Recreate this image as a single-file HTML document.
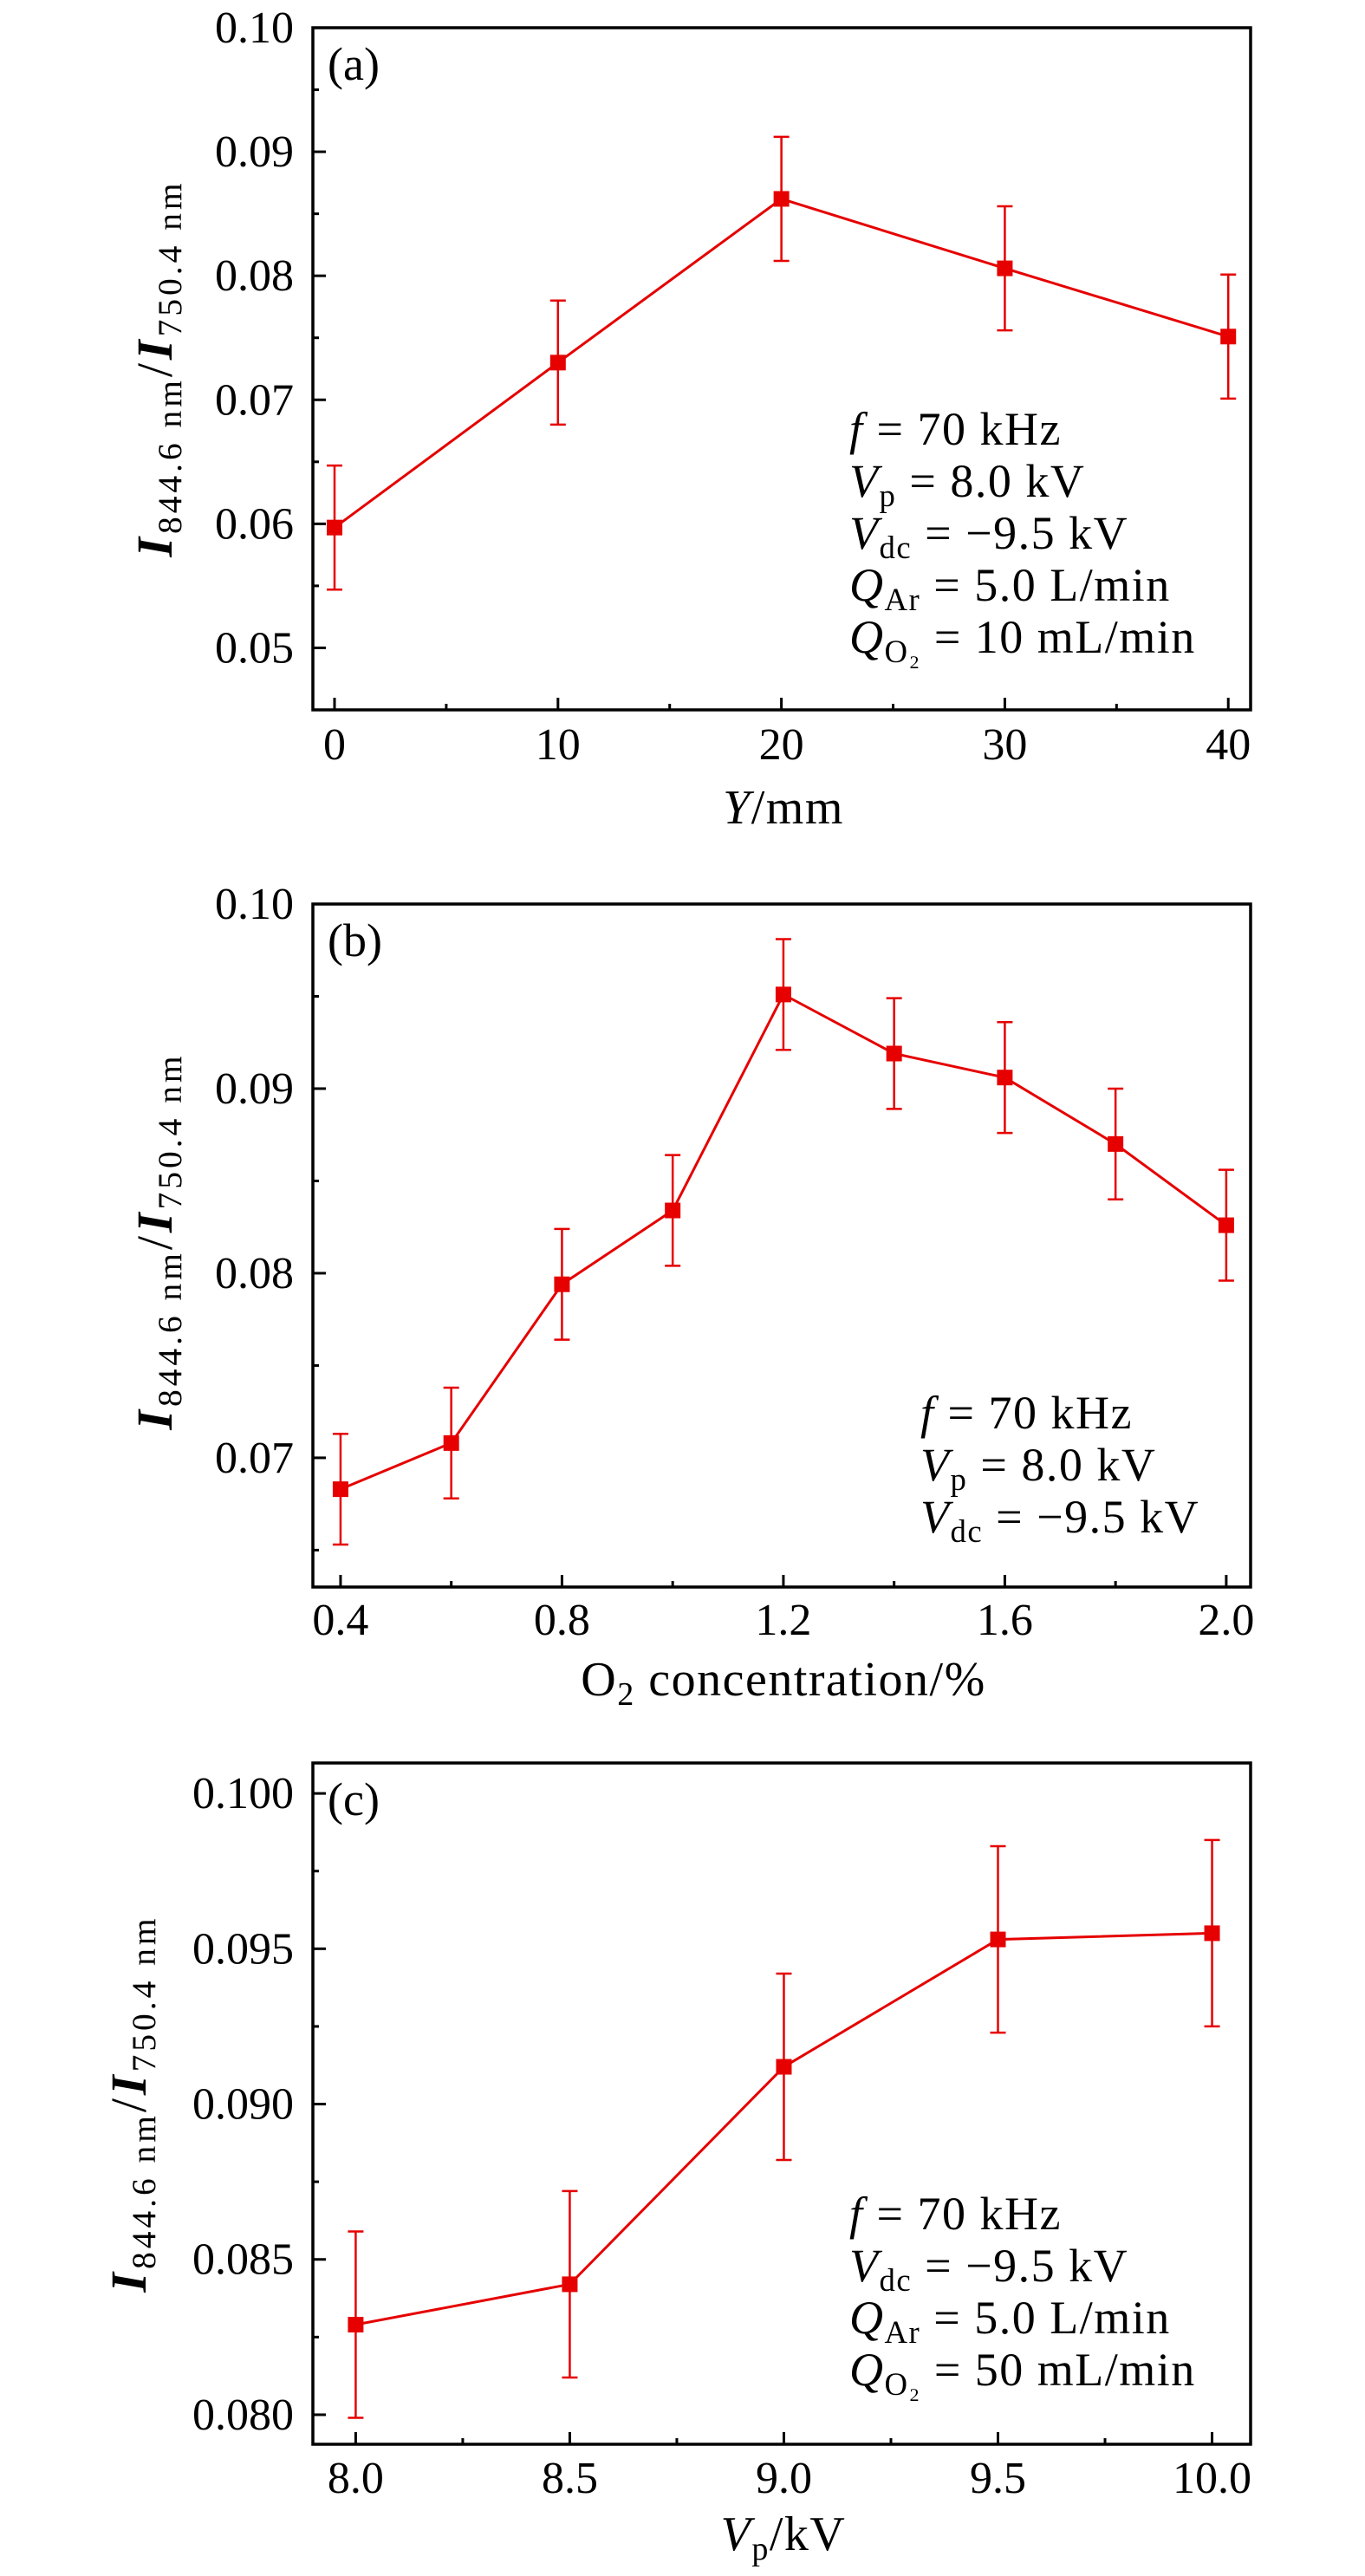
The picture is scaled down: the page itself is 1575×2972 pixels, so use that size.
<!DOCTYPE html>
<html><head><meta charset="utf-8"><style>
html,body{margin:0;padding:0;background:#fff;}
svg{display:block;font-family:"Liberation Serif",serif;}
</style></head><body>
<svg id="fig" width="1575" height="2972" viewBox="0 0 1575 2972" xmlns="http://www.w3.org/2000/svg"></svg>
<script>
// Panel (a)
const aX = [0, 10, 20, 30, 40];
const aY = [0.0597, 0.0730, 0.0862, 0.0806, 0.0751];
const aErr = [0.005, 0.005, 0.005, 0.005, 0.005];
const aXTicks = ["0", "10", "20", "30", "40"];
const aYTicks = ["0.05", "0.06", "0.07", "0.08", "0.09", "0.10"];
// Panel (b)
const bX = [0.4, 0.6, 0.8, 1.0, 1.2, 1.4, 1.6, 1.8, 2.0];
const bY = [0.0683, 0.0708, 0.0794, 0.0834, 0.0951, 0.0919, 0.0906, 0.0870, 0.0826];
const bErr = [0.003, 0.003, 0.003, 0.003, 0.003, 0.003, 0.003, 0.003, 0.003];
const bXTicks = ["0.4", "0.8", "1.2", "1.6", "2.0"];
const bYTicks = ["0.07", "0.08", "0.09", "0.10"];
// Panel (c)
const cX = [8.0, 8.5, 9.0, 9.5, 10.0];
const cY = [0.0829, 0.0842, 0.0912, 0.0953, 0.0955];
const cErr = [0.003, 0.003, 0.003, 0.003, 0.003];
const cXTicks = ["8.0", "8.5", "9.0", "9.5", "10.0"];
const cYTicks = ["0.080", "0.085", "0.090", "0.095", "0.100"];

const NS = "http://www.w3.org/2000/svg";
const svg = document.getElementById("fig");
function el(tag, attrs, parent) {
  const e = document.createElementNS(NS, tag);
  for (const k in attrs) e.setAttribute(k, attrs[k]);
  (parent || svg).appendChild(e);
  return e;
}
function rich(parent, x, y, parts, size, anchor, ls) {
  const t = el("text", {x: x, y: y, "font-size": size, "text-anchor": anchor || "start", fill: "#000"}, parent);
  if (ls) t.setAttribute("letter-spacing", ls);
  let shift = 0;
  parts.forEach(p => {
    const s = document.createElementNS(NS, "tspan");
    s.textContent = p[0];
    const st = p[1] || "";
    let dy = 0;
    if (st.includes("sub")) { s.setAttribute("font-size", size * 0.68); dy = 11 - shift; shift = 11; }
    else { dy = -shift; shift = 0; }
    if (dy) s.setAttribute("dy", dy);
    if (st.includes("i")) s.setAttribute("font-style", "italic");
    if (st.includes("B")) s.setAttribute("font-weight", "bold");
    t.appendChild(s);
  });
  return t;
}

function panel(cfg) {
  const g = el("g", {});
  
  
  const L = 361, R = 1443, T = cfg.top, B = cfg.bottom;
  const sx = v => L + (v - cfg.xmin) / (cfg.xmax - cfg.xmin) * (R - L);
  const sy = v => B - (v - cfg.ymin) / (cfg.ymax - cfg.ymin) * (B - T);
  const tg = el("g", {stroke: "#000", "stroke-width": 3}, g);
  
  
  cfg.xTicks.forEach((lab, i) => {
    const v = parseFloat(lab);
    el("line", {x1: sx(v), x2: sx(v), y1: B, y2: B - 14}, tg);
    const t = el("text", {x: sx(v), y: cfg.xLabelY, "font-size": 52, "text-anchor": "middle", stroke: "none", fill: "#000"}, g);
    t.textContent = lab;
    
    
    if (i < cfg.xTicks.length - 1) {
      const m = v + cfg.xStep / 2;
      el("line", {x1: sx(m), x2: sx(m), y1: B, y2: B - 7}, tg);
    }
  });
  cfg.yTicks.forEach((lab, i) => {
    const v = parseFloat(lab);
    el("line", {x1: L, x2: L + 15, y1: sy(v), y2: sy(v)}, tg);
    const t = el("text", {x: 339, y: sy(v) + 17, "font-size": 52, "text-anchor": "end", fill: "#000"}, g);
    t.textContent = lab;
    
    
    const m = v + cfg.yStep / 2;
    if (m < cfg.ymax) el("line", {x1: L, x2: L + 7, y1: sy(m), y2: sy(m)}, tg);
    const m2 = v - cfg.yStep / 2;
    if (i === 0 && m2 > cfg.ymin) el("line", {x1: L, x2: L + 7, y1: sy(m2), y2: sy(m2)}, tg);
  });
  const box = el("rect", {x: L, y: T, width: R - L, height: B - T, fill: "none", stroke: "#000", "stroke-width": 3.5}, g);
  
  
  const pts = cfg.xs.map((x, i) => sx(x) + "," + sy(cfg.ys[i])).join(" ");
  const line = el("polyline", {points: pts, fill: "none", stroke: "#e60000", "stroke-width": 3}, g);
  
  
  cfg.xs.forEach((x, i) => {
    const X = sx(x), Y = sy(cfg.ys[i]);
    const y1 = sy(cfg.ys[i] + cfg.err[i]), y2 = sy(cfg.ys[i] - cfg.err[i]);
    const eb = el("path", {d: `M${X},${y1}V${y2}M${X-9},${y1}H${X+9}M${X-9},${y2}H${X+9}`, stroke: "#e60000", "stroke-width": 2.5, fill: "none"}, g);
    
    
    const mk = el("rect", {x: X - 9, y: Y - 9, width: 18, height: 18, fill: "#e60000"}, g);
    
    
  });
  const pl = el("text", {x: 378, y: T + 60, "font-size": 54, fill: "#000"}, g);
  pl.textContent = cfg.label;
  
  
  const ag = el("g", {}, g);
  
  
  cfg.notes.forEach((parts, i) => rich(ag, cfg.noteX, cfg.noteY + i * 60, parts, 54, "start", 1.5));
  const yg = el("g", {transform: `translate(${cfg.yTitleX},${cfg.yTitleY}) rotate(-90)`}, g);
  const yt = rich(yg, 0, 0, [["I","iB"],["844.6 nm","sub"],["/",""],["I","iB"],["750.4 nm","sub"]], 58, "middle", 4);
  
  
  const xt = rich(g, 904, cfg.xTitleY, cfg.xTitle, 56, "middle", 1.5);
  
  
}

panel({name: "panel-a", top: 32, bottom: 819, xmin: -0.97, xmax: 41.0, ymin: 0.045, ymax: 0.10,
  xs: aX, ys: aY, err: aErr, xTicks: aXTicks, yTicks: aYTicks, xStep: 10, yStep: 0.01,
  xLabelY: 876, xTitleY: 950, label: "(a)", noteX: 980, noteY: 513, yTitleX: 198, yTitleY: 425,
  xTitle: [["Y","i"],["/mm",""]],
  notes: [[["f","i"],[" = 70 kHz",""]],[["V","i"],["p","sub"],[" = 8.0 kV",""]],[["V","i"],["dc","sub"],[" = −9.5 kV",""]],[["Q","i"],["Ar","sub"],[" = 5.0 L/min",""]],[["Q","i"],["O₂","sub"],[" = 10 mL/min",""]]]});
panel({name: "panel-b", top: 1043, bottom: 1831, xmin: 0.35, xmax: 2.044, ymin: 0.063, ymax: 0.10,
  xs: bX, ys: bY, err: bErr, xTicks: bXTicks, yTicks: bYTicks, xStep: 0.4, yStep: 0.01,
  xLabelY: 1886, xTitleY: 1956, label: "(b)", noteX: 1062, noteY: 1648, yTitleX: 198, yTitleY: 1432,
  xTitle: [["O",""],["2","sub"],[" concentration/%",""]],
  notes: [[["f","i"],[" = 70 kHz",""]],[["V","i"],["p","sub"],[" = 8.0 kV",""]],[["V","i"],["dc","sub"],[" = −9.5 kV",""]]]});
panel({name: "panel-c", top: 2034, bottom: 2820, xmin: 7.9, xmax: 10.09, ymin: 0.07905, ymax: 0.10098,
  xs: cX, ys: cY, err: cErr, xTicks: cXTicks, yTicks: cYTicks, xStep: 0.5, yStep: 0.005,
  xLabelY: 2876, xTitleY: 2942, label: "(c)", noteX: 980, noteY: 2572, yTitleX: 168, yTitleY: 2427,
  xTitle: [["V","i"],["p","sub"],["/kV",""]],
  notes: [[["f","i"],[" = 70 kHz",""]],[["V","i"],["dc","sub"],[" = −9.5 kV",""]],[["Q","i"],["Ar","sub"],[" = 5.0 L/min",""]],[["Q","i"],["O₂","sub"],[" = 50 mL/min",""]]]});
</script>
</body></html>
